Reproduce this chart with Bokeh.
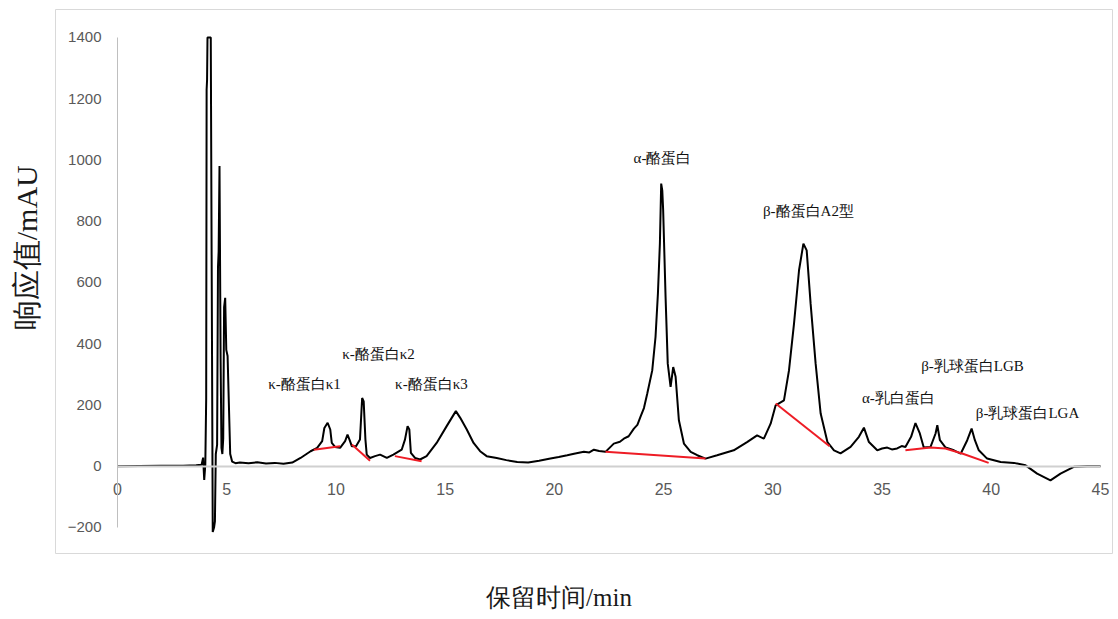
from bokeh.plotting import figure
from bokeh.models import Range1d, LinearAxis, FixedTicker
from bokeh.core.properties import value
from bokeh.embed import file_html
from bokeh.resources import INLINE

# ---- data ----
time_min = [0.0, 1.0, 2.0, 3.0, 3.6, 3.85, 3.92, 3.97, 4.02, 4.06, 4.08, 4.10, 4.12, 4.27,
            4.36, 4.42, 4.46, 4.50, 4.56, 4.60, 4.63, 4.67, 4.72, 4.76, 4.80, 4.84, 4.88,
            4.93, 4.98, 5.04, 5.10, 5.16, 5.25, 5.4, 5.6, 6.0, 6.4, 6.8, 7.2, 7.6, 8.0,
            8.38, 8.84, 9.14, 9.37, 9.47, 9.62, 9.74, 9.81, 9.96, 10.19, 10.42, 10.53, 10.62,
            10.73, 10.92, 11.1, 11.2, 11.27, 11.35, 11.41, 11.56, 11.79, 12.02, 12.33, 12.63,
            13.01, 13.16, 13.28, 13.36, 13.43, 13.62, 13.85, 14.15, 14.61, 15.07, 15.3, 15.49,
            15.69, 15.99, 16.3, 16.6, 16.9, 17.36, 17.8, 18.3, 18.8, 19.3, 19.82, 20.2, 20.59,
            20.9, 21.35, 21.6, 21.81, 22.05, 22.34, 22.72, 23.0, 23.18, 23.4, 23.64, 23.8,
            23.94, 24.1, 24.25, 24.48, 24.63, 24.74, 24.83, 24.89,
            24.94, 24.98, 25.09, 25.19, 25.32, 25.44, 25.55, 25.7, 25.93, 26.24, 26.54, 26.92,
            27.45, 28.21, 28.82, 29.28, 29.59, 29.9, 30.13, 30.51, 30.74, 30.97, 31.2, 31.4,
            31.55, 31.73, 31.96, 32.19, 32.5, 32.8, 33.1, 33.56, 33.94, 34.17, 34.4, 34.78,
            35.0, 35.24, 35.45, 35.69, 35.9, 36.07, 36.33, 36.53, 36.73, 36.91, 37.22, 37.45,
            37.53, 37.65, 37.91, 38.29, 38.6, 38.9, 39.1, 39.25, 39.43, 39.81, 40.43, 41.04,
            41.57, 42.1, 42.71, 43.17, 43.78, 44.39, 45.0]
response_mau = [0, 1, 2, 2, 3, 5, 28, -45, 5, 220, 1230, 1260, 1400, 1400,
                -215, -200, -180, 40, 70, 650, 700, 980, 350, 60, 40, 90, 520,
                550, 380, 360, 200, 40, 15, 10, 12, 10, 13, 9, 11, 8, 12,
                27, 49, 60, 82, 125, 142, 120, 76, 63, 60, 82, 103, 87,
                65, 65, 87, 223, 212, 87, 38, 27, 33, 38, 27, 38,
                54, 87, 131, 120, 44, 27, 22, 33, 76, 131, 158, 180,
                158, 120, 76, 49, 33, 27, 20, 14, 12, 18, 25, 30, 36,
                41, 47, 45, 54, 50, 47, 74, 80, 90, 98, 123, 135,
                161, 190, 237, 313, 422, 564, 727, 923,
                900, 836, 553, 335, 259, 324, 292, 150, 74, 47, 36, 25,
                36, 52, 79, 101, 90, 139, 199, 215, 313, 466, 640, 727,
                705, 531, 335, 172, 79, 52, 42, 63, 96, 126, 79, 52,
                58, 61, 55, 58, 66, 63, 96, 141, 107, 61, 63, 107,
                134, 85, 61, 52, 41, 85, 123, 85, 52, 25, 14, 11,
                3, -24, -46, -24, -2, 0, 0]
assert len(time_min) == len(response_mau)

# integration baselines (red)
baseline_t = [[8.99, 10.19], [10.73, 11.56], [12.7, 13.92], [22.34, 26.92],
              [30.13, 32.6], [36.07, 37.22, 37.9, 38.7, 39.88]]
baseline_v = [[54, 65], [71, 18], [33, 16], [47, 25],
              [205, 65], [52, 61, 58, 41, 11]]

peak_names = ["κ-酪蛋白κ1", "κ-酪蛋白κ2", "κ-酪蛋白κ3", "α-酪蛋白",
              "β-酪蛋白A2型", "α-乳白蛋白", "β-乳球蛋白LGB", "β-乳球蛋白LGA"]

x_ticks = [0, 5, 10, 15, 20, 25, 30, 35, 40, 45]
y_ticks = [-200, 0, 200, 400, 600, 800, 1000, 1200, 1400]

x_title = "保留时间/min"
y_title = "响应值/mAU"

# annotation anchor positions (layout)
label_x = [8.56, 11.95, 14.37, 24.95, 31.63, 35.75, 39.14, 41.66]
label_y = [267, 365, 267, 1008, 835, 224, 326, 175]

NBSP = "\u00a0"  # non-collapsing padding used to shift the centred titles off-centre

p = figure(width=1116, height=617,
           x_range=Range1d(-2.838, 45.55), y_range=Range1d(-284.9, 1491.4),
           output_backend="svg", toolbar_location=None,
           x_axis_location=None, y_axis_location=None,
           min_border_left=55, min_border_right=4, min_border_top=9, min_border_bottom=64)
p.xgrid.visible = False
p.ygrid.visible = False
p.outline_line_color = "#d9d9d9"
p.outline_line_width = 1
p.background_fill_color = "white"
p.border_fill_color = "white"

tick_font = "Liberation Sans"

# y axis drawn at x = 0
yax = LinearAxis(fixed_location=0, bounds=(-200, 1400), ticker=FixedTicker(ticks=y_ticks))
yax.axis_line_color = "#bfbfbf"
yax.axis_line_width = 1
yax.major_tick_out = 0
yax.major_tick_in = 0
yax.minor_tick_out = 0
yax.minor_tick_in = 0
yax.major_label_standoff = 16
yax.major_label_text_font = tick_font
yax.major_label_text_font_size = "15px"
yax.major_label_text_color = "#595959"
p.add_layout(yax, "left")

# x axis drawn at y = 0
xax = LinearAxis(fixed_location=0, bounds=(0, 45), ticker=FixedTicker(ticks=x_ticks))
xax.axis_line_color = "#d0d0d0"
xax.axis_line_width = 2
xax.major_tick_out = 0
xax.major_tick_in = 0
xax.minor_tick_out = 0
xax.minor_tick_in = 0
xax.major_label_standoff = 17
xax.major_label_text_font = tick_font
xax.major_label_text_font_size = "16px"
xax.major_label_text_color = "#595959"
p.add_layout(xax, "below")

# axis titles outside the chart box (rule and ticks hidden)
ytitle = LinearAxis(ticker=FixedTicker(ticks=[]), axis_label=NBSP * 9 + y_title)
ytitle.axis_line_color = None
ytitle.major_tick_out = 0
ytitle.minor_tick_out = 0
ytitle.axis_label_standoff = 13
ytitle.axis_label_text_font = "Liberation Serif"
ytitle.axis_label_text_font_size = "30px"
ytitle.axis_label_text_font_style = "normal"
ytitle.axis_label_text_color = "#1a1a1a"
p.add_layout(ytitle, "left")

xtitle = LinearAxis(ticker=FixedTicker(ticks=[]), axis_label=x_title + NBSP * 8)
xtitle.axis_line_color = None
xtitle.major_tick_out = 0
xtitle.minor_tick_out = 0
xtitle.axis_label_standoff = 30
xtitle.axis_label_text_font = "Liberation Serif"
xtitle.axis_label_text_font_size = "25px"
xtitle.axis_label_text_font_style = "normal"
xtitle.axis_label_text_color = "#1a1a1a"
p.add_layout(xtitle, "below")

p.line(time_min, response_mau, line_color="black", line_width=2)
p.multi_line(baseline_t, baseline_v, line_color="#ee1c25", line_width=2)

p.text(x=label_x, y=label_y, text=peak_names, text_align="center", text_baseline="middle",
       text_font=value("Liberation Serif"), text_font_size="15px", text_color="#111111")

open("out.html", "w").write(file_html(p, INLINE))
